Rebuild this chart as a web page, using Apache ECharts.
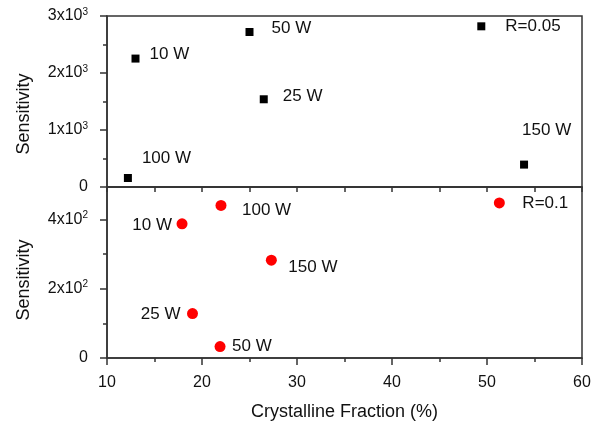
<!DOCTYPE html>
<html>
<head>
<meta charset="utf-8">
<script src="https://cdn.jsdelivr.net/npm/echarts@6/dist/echarts.min.js"></script>
<style>
html,body{margin:0;padding:0;background:#fff;}
#chart{width:606px;height:422px;}
</style>
</head>
<body>
<div id="chart"></div>
<script>
// ---- data ----
const topNames = ['10 W', '25 W', '50 W', '100 W', '150 W', 'R=0.05'];
const topX = [13.0, 26.5, 25.0, 12.2, 53.9, 49.4];
const topY = [2253, 1539, 2719, 158, 393, 2819];

const botNames = ['10 W', '25 W', '50 W', '100 W', '150 W', 'R=0.1'];
const botX = [17.9, 19.0, 21.9, 22.0, 27.3, 51.3];
const botY = [387, 128, 33, 440, 282, 447];

const xTicks = [10, 20, 30, 40, 50, 60];
const topYTicks = [0, 1000, 2000, 3000];
const botYTicks = [0, 200, 400];

// ---- label placement (layout only) ----
const topLabelPlace = {
  '10 W': {align: 'left', offset: [14, -4]},
  '25 W': {align: 'left', offset: [19, -3]},
  '50 W': {align: 'left', offset: [22, -4]},
  '100 W': {align: 'left', offset: [14, -20]},
  '150 W': {align: 'left', offset: [-2, -34]},
  'R=0.05': {align: 'left', offset: [24, 0]}
};
const botLabelPlace = {
  '10 W': {align: 'right', offset: [-10, 2]},
  '25 W': {align: 'right', offset: [-12, 1]},
  '50 W': {align: 'left', offset: [12, 0]},
  '100 W': {align: 'left', offset: [21, 5]},
  '150 W': {align: 'left', offset: [17, 7]},
  'R=0.1': {align: 'left', offset: [23, 0]}
};

const FONT = 'Liberation Sans, Arial, Helvetica, sans-serif';
const TXT = '#111';
const LINE = '#333';

function buildData(names, xs, ys, place) {
  return names.map((n, i) => ({
    name: n,
    value: [xs[i], ys[i]],
    label: {
      show: true,
      position: 'inside',
      formatter: n,
      align: place[n].align,
      verticalAlign: 'middle',
      offset: place[n].offset
    }
  }));
}

function sciFmt(exp, ticks) {
  return function (v) {
    if (ticks.indexOf(v) < 0) return '';
    if (v === 0) return '{b|0}';
    const m = Math.round(v / Math.pow(10, exp));
    return '{b|' + m + 'x10}{s|' + exp + '}';
  };
}
const richStyle = {
  b: {fontSize: 16, fontFamily: FONT, color: TXT, lineHeight: 18},
  s: {fontSize: 10, fontFamily: FONT, color: TXT, verticalAlign: 'top', lineHeight: 12}
};

const chart = echarts.init(document.getElementById('chart'), null, {renderer: 'canvas'});

const axisLineStyle = {show: true, lineStyle: {color: LINE, width: 1.5}};

const option = {
  backgroundColor: '#fff',
  animation: false,
  grid: [
    {left: 107, right: 24, top: 16, height: 171, show: true, borderColor: LINE, borderWidth: 1.5, backgroundColor: 'transparent'},
    {left: 107, right: 24, top: 187, height: 171, show: true, borderColor: LINE, borderWidth: 1.5, backgroundColor: 'transparent'}
  ],
  xAxis: [
    {
      gridIndex: 0, type: 'value', position: 'bottom', min: 10, max: 60, interval: 5,
      axisLine: axisLineStyle,
      axisTick: {show: true, inside: false, length: 5, lineStyle: {color: LINE, width: 1.5}},
      axisLabel: {show: false},
      splitLine: {show: false}
    },
    {
      gridIndex: 1, type: 'value', position: 'bottom', min: 10, max: 60, interval: 10,
      axisLine: axisLineStyle,
      axisTick: {show: true, inside: false, length: 7, lineStyle: {color: LINE, width: 1.5}},
      minorTick: {show: true, splitNumber: 2, length: 4, lineStyle: {color: LINE, width: 1.5}},
      axisLabel: {
        show: true, margin: 17, fontSize: 16, fontFamily: FONT, color: TXT,
        formatter: v => (xTicks.indexOf(v) >= 0 ? String(v) : '')
      },
      splitLine: {show: false},
      name: 'Crystalline Fraction (%)',
      nameLocation: 'middle',
      nameGap: 45,
      nameTextStyle: {fontSize: 18, fontFamily: FONT, color: TXT}
    }
  ],
  yAxis: [
    {
      gridIndex: 0, type: 'value', position: 'left', min: 0, max: 3000, interval: 1000,
      axisLine: axisLineStyle,
      axisTick: {show: true, inside: false, length: 7, lineStyle: {color: LINE, width: 1.5}},
      minorTick: {show: true, splitNumber: 2, length: 4, lineStyle: {color: LINE, width: 1.5}},
      axisLabel: {show: true, margin: 19, formatter: sciFmt(3, topYTicks), rich: richStyle},
      splitLine: {show: false},
      name: 'Sensitivity',
      nameLocation: 'middle',
      nameGap: 74,
      nameTextStyle: {fontSize: 18, fontFamily: FONT, color: TXT, padding: [0, 25, 0, 0]}
    },
    {
      gridIndex: 1, type: 'value', position: 'left', offset: 0, min: 0, max: 493, interval: 200,
      axisLine: axisLineStyle,
      axisTick: {show: true, inside: false, length: 7, lineStyle: {color: LINE, width: 1.5}},
      axisLabel: {show: true, margin: 19, showMaxLabel: false, formatter: sciFmt(2, botYTicks), rich: richStyle},
      splitLine: {show: false},
      name: 'Sensitivity',
      nameLocation: 'middle',
      nameGap: 74,
      nameTextStyle: {fontSize: 18, fontFamily: FONT, color: TXT, padding: [0, 15, 0, 0]}
    },
    {
      gridIndex: 1, type: 'value', position: 'left', offset: 0, min: 0, max: 493, interval: 100,
      axisLine: {show: false},
      axisTick: {show: true, inside: false, length: 4, lineStyle: {color: LINE, width: 1.5}},
      axisLabel: {show: false},
      splitLine: {show: false}
    }
  ],
  series: [
    {
      type: 'scatter', xAxisIndex: 0, yAxisIndex: 0,
      symbol: 'rect', symbolSize: 8,
      itemStyle: {color: '#000', opacity: 1},
      label: {fontSize: 17, fontFamily: FONT, color: TXT, opacity: 1},
      data: buildData(topNames, topX, topY, topLabelPlace)
    },
    {
      type: 'scatter', xAxisIndex: 1, yAxisIndex: 1,
      symbol: 'circle', symbolSize: 11,
      itemStyle: {color: '#ff0000', opacity: 1},
      label: {fontSize: 17, fontFamily: FONT, color: TXT, opacity: 1},
      data: buildData(botNames, botX, botY, botLabelPlace)
    }
  ]
};
chart.setOption(option);
</script>
</body>
</html>
